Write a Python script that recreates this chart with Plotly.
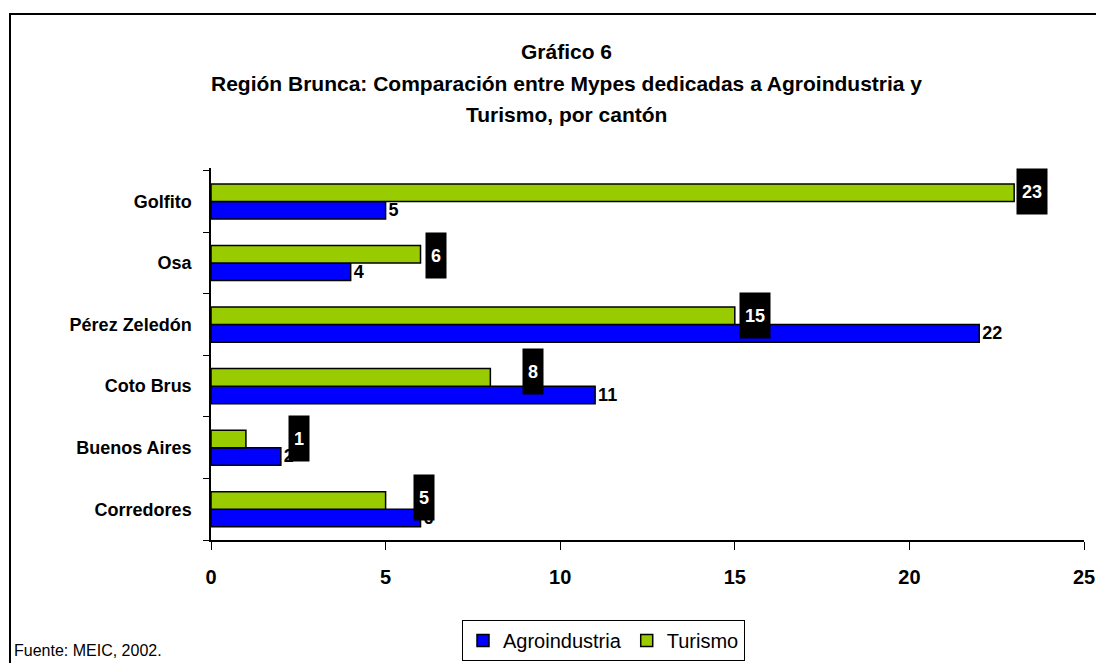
import plotly.graph_objects as go

# data (bottom to top, as drawn)
cantones = ["Corredores", "Buenos Aires", "Coto Brus", "Pérez Zeledón", "Osa", "Golfito"]
agroindustria = [6, 2, 11, 22, 4, 5]
turismo = [5, 1, 8, 15, 6, 23]
x_ticks = [0, 5, 10, 15, 20, 25]

title_lines = [
    "Gráfico 6",
    "Región Brunca: Comparación entre Mypes dedicadas a Agroindustria y",
    "Turismo, por cantón",
]

FONT = "Arial, Liberation Sans, sans-serif"
BLUE = "#0000FF"
GREEN = "#99CC00"

# page body has an 8px margin, so the figure is drawn 8px smaller
W, H = 1096, 655
ML, MR, MT, MB = 203, 20, 160, 123
PW, PH = W - ML - MR, H - MT - MB


def px(x):
    return (x - 8 - ML) / PW


def py(y):
    return (H - MB - (y - 8)) / PH


# label box nudges (px) for the Turismo labels, as placed in the original
label_xshift = [27, 42, 32, 4, 4, 2]
label_yshift = [3, 0, 6, 0, -1, 1]

fig = go.Figure()

fig.add_trace(go.Bar(
    y=cantones, x=agroindustria, orientation="h", name="Agroindustria",
    marker=dict(color=BLUE, line=dict(color="black", width=1.5)),
    text=agroindustria, textposition="outside", constraintext="none",
    textfont=dict(family=FONT, size=18, color="black", weight="bold"),
    cliponaxis=False,
))
fig.add_trace(go.Bar(
    y=cantones, x=turismo, orientation="h", name="Turismo",
    marker=dict(color=GREEN, line=dict(color="black", width=1.5)),
))

# white-on-black labels for Turismo
for i, (c, v) in enumerate(zip(cantones, turismo)):
    fig.add_annotation(
        x=v, y=c, xref="x", yref="y", text="<b>%d</b>" % v, showarrow=False,
        xanchor="left", yshift=9 + label_yshift[i], xshift=label_xshift[i],
        font=dict(family=FONT, size=18, color="white"),
        bgcolor="black", borderpad=5, height=35,
    )

# title lines
for k, line in enumerate(title_lines):
    fig.add_annotation(
        x=px(566), y=py(51 + 32 * k), xref="paper", yref="paper",
        text="<b>%s</b>" % line, showarrow=False, xanchor="center", yanchor="middle",
        font=dict(family=FONT, size=21, color="black"),
    )

fig.add_annotation(
    x=px(12), y=py(650), xref="paper", yref="paper", text="Fuente: MEIC, 2002.",
    showarrow=False, xanchor="left", yanchor="middle",
    font=dict(family=FONT, size=16, color="black"),
)

fig.update_layout(
    width=W, height=H,
    margin=dict(l=ML, r=MR, t=MT, b=MB, autoexpand=False),
    paper_bgcolor="white", plot_bgcolor="white",
    barmode="group", bargap=0.43, bargroupgap=0,
    font=dict(family=FONT, color="black"),
    showlegend=True,
    legend=dict(
        orientation="h", x=px(462), y=py(620), xanchor="left", yanchor="top",
        bordercolor="black", borderwidth=1, bgcolor="white",
        font=dict(family=FONT, size=20, color="black"),
        itemwidth=30, traceorder="normal",
    ),
    xaxis=dict(
        range=[0, 25], tickvals=x_ticks, showgrid=False, zeroline=False,
        showline=True, linecolor="black", linewidth=1.5,
        ticks="outside", ticklen=8, tickcolor="black", ticklabelstandoff=10,
        tickfont=dict(family=FONT, size=20, color="black", weight="bold"),
    ),
    yaxis=dict(
        showgrid=False, zeroline=False, showline=True, linecolor="black", linewidth=1.5,
        ticks="outside", ticklen=6, tickcolor="black", tickson="boundaries",
        ticklabelstandoff=14,
        tickfont=dict(family=FONT, size=18, color="black", weight="bold"),
    ),
)

# outer frame of the chart area (right and bottom edges fall off the page)
fig.add_shape(
    type="rect", xref="paper", yref="paper",
    x0=px(10), x1=px(1130), y0=py(700), y1=py(14),
    line=dict(color="black", width=2), fillcolor="rgba(0,0,0,0)", layer="below",
)

fig.write_html("out.html")
